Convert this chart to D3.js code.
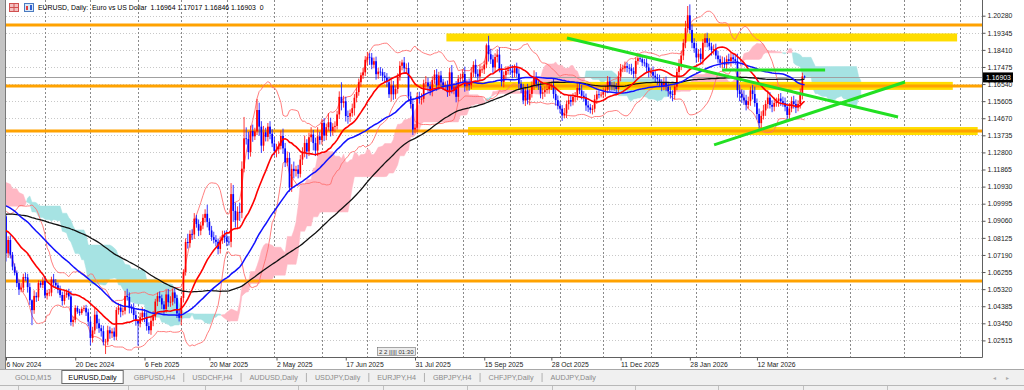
<!DOCTYPE html>
<html><head><meta charset="utf-8">
<script src="https://cdnjs.cloudflare.com/ajax/libs/d3/7.8.5/d3.min.js"></script>
<style>html,body{margin:0;padding:0;background:#fff;overflow:hidden}
text{font-family:"Liberation Sans",Arial,sans-serif}</style>
</head><body><svg id="c" width="1024" height="390"></svg>
<script>
// ---------- DATA (EURUSD daily closes) ----------
// warm-up bars (17 Jun 2024 - 5 Nov 2024), used only for the indicators
const closeWarm = [
1.0733,1.0740,1.0748,1.0703,1.0692, 1.0733,1.0714,1.0683,1.0702,1.0713,
1.0740,1.0745,1.0790,1.0810,1.0840, 1.0826,1.0813,1.0830,1.0870,1.0907,
1.0893,1.0901,1.0938,1.0895,1.0882, 1.0890,1.0850,1.0840,1.0850,1.0856,
1.0819,1.0818,1.0826,1.0790,1.0910, 1.0955,1.0931,1.0922,1.0920,1.0917,
1.0932,1.0995,1.1013,1.0966,1.1027, 1.1076,1.1130,1.1150,1.1113,1.1192,
1.1164,1.1184,1.1122,1.1077,1.1048, 1.1070,1.1045,1.1088,1.1113,1.1085,
1.1040,1.1023,1.1011,1.1074,1.1075, 1.1133,1.1115,1.1117,1.1160,1.1163,
1.1110,1.1180,1.1134,1.1177,1.1163, 1.1135,1.1067,1.1046,1.1031,1.0975,
1.0975,1.0978,1.0941,1.0937,1.0936, 1.0908,1.0891,1.0891,1.0833,1.0867,
1.0818,1.0797,1.0783,1.0826,1.0797, 1.0817,1.0816,1.0856,1.0884,1.0834,
1.0881,1.0930];
// visible: 6 Nov 2024 - 31 Dec 2024
const close2024 = [
1.0728,1.0801,1.0720,
1.0655,1.0622,1.0565,1.0530,1.0540, 1.0598,1.0596,1.0543,1.0471,1.0417,
1.0495,1.0487,1.0565,1.0555,1.0577, 1.0497,1.0511,1.0513,1.0585,1.0567,
1.0553,1.0529,1.0500,1.0467,1.0500, 1.0514,1.0492,1.0352,1.0364,1.0429,
1.0409,1.0402,1.0423,1.0428, 1.0405,1.0354];
const close2025 = [
1.0265,1.0306,
1.0392,1.0345,1.0318,1.0302,1.0244, 1.0245,1.0307,1.0290,1.0300,1.0272,
1.0418,1.0431,1.0408,1.0414,1.0494, 1.0489,1.0429,1.0425,1.0390,1.0362,
1.0343,1.0378,1.0403,1.0381,1.0330, 1.0307,1.0359,1.0382,1.0464,1.0494,
1.0482,1.0448,1.0423,1.0503,1.0460, 1.0463,1.0514,1.0483,1.0399,1.0375,
1.0484,1.0626,1.0790,1.0784,1.0834, 1.0831,1.0918,1.0888,1.0852,1.0880,
1.0922,1.0944,1.0900,1.0853,1.0816, 1.0802,1.0791,1.0752,1.0800,1.0827,
1.0815,1.0792,1.0791,1.1052,1.0960, 1.0909,1.0955,1.0950,1.1191,1.1357,
1.1353,1.1282,1.1397,1.1368,1.1395, 1.1512,1.1421,1.1317,1.1390,1.1365,
1.1421,1.1382,1.1329,1.1288,1.1297, 1.1316,1.1370,1.1302,1.1225,1.1250,
1.1089,1.1190,1.1178,1.1187,1.1163, 1.1241,1.1278,1.1332,1.1285,1.1363,
1.1378,1.1331,1.1290,1.1368,1.1348, 1.1442,1.1372,1.1418,1.1445,1.1397,
1.1420,1.1425,1.1488,1.1584,1.1550, 1.1560,1.1479,1.1477,1.1495,1.1522,
1.1579,1.1610,1.1664,1.1702,1.1718, 1.1787,1.1803,1.1799,1.1760,1.1779,
1.1708,1.1722,1.1719,1.1700,1.1689, 1.1664,1.1598,1.1646,1.1598,1.1627,
1.1693,1.1754,1.1772,1.1740,1.1742, 1.1587,1.1545,1.1405,1.1415,1.1587,
1.1572,1.1573,1.1658,1.1663,1.1642, 1.1617,1.1676,1.1706,1.1647,1.1701,
1.1663,1.1646,1.1648,1.1609,1.1718, 1.1623,1.1640,1.1584,1.1683,1.1686,
1.1709,1.1642,1.1659,1.1647,1.1717, 1.1759,1.1710,1.1695,1.1734,1.1734,
1.1761,1.1866,1.1817,1.1789,1.1745, 1.1802,1.1815,1.1738,1.1666,1.1703,
1.1726,1.1733,1.1728,1.1716,1.1741, 1.1711,1.1656,1.1630,1.1564,1.1620,
1.1568,1.1600,1.1647,1.1689,1.1655, 1.1642,1.1601,1.1609,1.1621,1.1626,
1.1642,1.1646,1.1600,1.1566,1.1535, 1.1519,1.1482,1.1493,1.1544,1.1566,
1.1557,1.1584,1.1590,1.1633,1.1619, 1.1590,1.1582,1.1537,1.1526,1.1513,
1.1519,1.1570,1.1598,1.1596,1.1596, 1.1610,1.1624,1.1668,1.1645,1.1642,
1.1640,1.1627,1.1694,1.1739,1.1740, 1.1752,1.1743,1.1740,1.1725,1.1710,
1.1780,1.1795,1.1790,1.1772, 1.1770,1.1745,1.1720];
const close2026 = [
1.1720,
1.1700,1.1690,1.1680,1.1660,1.1640, 1.1665,1.1640,1.1615,1.1600,1.1595,
1.1640,1.1720,1.1760,1.1810,1.1880, 1.1960,1.2030,1.1950,1.1880,1.1850,
1.1800,1.1820,1.1790,1.1880,1.1905, 1.1880,1.1860,1.1840,1.1845,1.1810,
1.1790,1.1770,1.1775,1.1760,1.1790, 1.1780,1.1800,1.1790,1.1780,1.1620,
1.1600,1.1580,1.1565,1.1540,1.1560, 1.1620,1.1600,1.1550,1.1490,1.1440,
1.1480,1.1510,1.1545,1.1580,1.1540, 1.1530,1.1550,1.1560,1.1575,1.1560,
1.1550,1.1530,1.1485,1.1520,1.1560, 1.1545,1.1525,1.1545,1.1600,1.16964,
1.16903];
// wick lengths beyond the body, in pips (upper / lower)
const hiWickWarm = [18,22,15,20,25,15,20,18,22,12,10,25,15,20,30,20,15,22,25,18,20,25,30,15,20,22,18,15,20,25,20,15,25,18,30,45,25,20,18,15,22,20,25,30,18,25,20,30,22,15,20,25,18,15,22,25,20,18,30,25,15,20,22,28,18,20,25,18,30,22,25,18,20,35,22,15,20,18,22,15,20,15,22,18,20,25,15,20,22,18,20,18,15,25,20,22,20,25,30,35,25,15];
const loWickWarm = [20,15,25,18,20,22,15,20,18,25,15,20,18,15,20,25,18,20,15,22,18,20,22,25,15,20,25,18,15,20,25,20,18,30,15,60,20,25,18,22,15,20,18,25,20,22,25,18,20,15,25,20,22,18,25,20,22,15,25,20,25,18,20,15,22,18,20,25,15,20,22,25,18,20,30,25,20,18,22,25,20,18,25,22,15,25,20,18,30,20,20,25,22,15,25,18,22,20,15,25,20,15];
const hiWick2024 = [7,20,25,15,18,12,20,25,18,25,20,22,5,30,20,15,12,20,25,18,20,15,30,20,15,22,18,25,15,20,30,18,15,12,15,10,15,18,20];
const loWick2024 = [45,25,20,20,15,22,30,15,25,20,30,25,82,20,25,20,15,18,15,22,18,20,25,18,20,15,25,20,15,18,20,25,15,12,15,10,12,20,25];
const hiWick2025 = [25,20, 40,20,25,18,30, 15,25,20,18,22, 15,25,20,18,28, 40,25,20,30,25, 5,25,30,20,25, 20,25,30,15,20, 25,20,18,25,30, 30,20,25,18,20,
10,15,20,45,20, 25,30,20,25,20, 20,25,50,20,25, 30,25,18,20,25, 25,40,30,60,50, 45,30,50,40,117, 60,40,30,35,20, 61,40,30,35,25, 20,30,25,35,30,
25,30,40,30,35, 30,25,40,20,25, 25,30,40,20,25, 40,25,30,50,25, 20,25,20,50,25, 20,25,20,30,80, 30,25,30,20,25, 20,25,20,15,25, 20,27,20,25,20,
25,20,25,20,20, 25,30,40,25,20, 20,25,15,30,25, 30,25,30,20,20, 25,30,20,35,25, 25,20,25,30,20, 25,20,20,25,25, 40,20,30,20,25, 25,40,20,25,30,
20,30,25,25,20, 20,10,52,30,25, 20,30,40,25,20, 25,20,25,30,20, 30,25,20,25,20, 35,25,20,40,30, 25,20,25,20,25, 25,20,40,25,25, 25,20,30,20,25,
25,20,20,25,30, 30,25,20,25,20, 20,25,20,20,15, 25,20,30,25,20, 25,20,30,25,20, 25,20,20,25,20, 20,30,20,15, 20,25,20];
const loWick2025 = [40,25, 20,30,25,30,20, 67,20,30,25,20, 20,25,30,20,20, 20,30,25,25,30, 120,20,25,30,25, 20,25,30,20,25, 20,25,30,20,25, 25,20,30,25,20,
40,25,20,30,25, 30,25,20,30,25, 20,25,30,25,20, 20,25,30,25,20, 30,25,20,30,60, 40,50,45,30,20, 30,40,25,30,20, 20,50,40,30,25, 25,30,20,25,35,
25,20,30,25,20, 24,25,40,30,25, 20,30,25,40,25, 25,40,30,30,25, 25,30,25,20,30, 25,30,20,25,40, 25,30,40,30,20, 40,25,20,25,20, 20,30,40,25,20,
30,25,20,30,25, 25,20,40,30,25, 25,20,25,30,20, 20,25,30,20,23, 25,30,20,25,30, 25,30,20,30,25, 20,25,30,25,20, 20,25,30,25,20, 20,30,25,30,20,
25,20,30,25,20, 25,20,40,25,30, 25,30,20,25,30, 25,20,25,30,25, 20,30,25,20,30, 25,30,20,25,20, 20,25,30,25,20, 25,20,25,30,20, 25,30,14,25,30,
25,20,30,25,20, 20,25,30,25,20, 25,20,25,20,15, 20,25,20,30,25, 25,30,20,25,20, 20,25,30,20,25, 25,20,15,20, 20,25,30];
const hiWick2026 = [20, 30,25,20,25,20, 25,30,20,25,20, 15,20,30,25,20, 40,51,60,30,25, 30,25,30,20,25, 30,25,20,25,30, 25,20,30,25,20, 30,25,20,25,40,
30,25,40,30,25, 20,30,40,25,30, 25,30,20,40,30, 25,30,20,25,30, 25,30,20,30,25, 30,25,20,30,20, 5];
const loWick2026 = [25, 20,25,30,20,25, 20,25,30,25,35, 25,20,25,30,25, 30,25,20,30,25, 30,25,20,30,25, 25,20,30,25,20, 20,25,30,20,25, 20,30,25,20,40,
40,30,25,30,20, 25,30,20,30,30, 25,20,30,25,20, 30,25,20,30,25, 20,25,30,25,20, 25,30,20,25,30, 6];

// axis labels
const priceTicks = [1.20280,1.19345,1.18410,1.17475,1.16540,1.15605,1.14670,1.13735,1.12800,1.11865,
  1.10930,1.09995,1.09060,1.08125,1.07190,1.06255,1.05320,1.04385,1.03450,1.02515];
const dateLabels = ["6 Nov 2024","20 Dec 2024","6 Feb 2025","20 Mar 2025","2 May 2025","17 Jun 2025",
  "31 Jul 2025","15 Sep 2025","28 Oct 2025","11 Dec 2025","28 Jan 2026","12 Mar 2026"];
const dateBarIdx = [0,32,64,94,125,157,189,221,252,284,316,347];
const monthStartIdx = [18,39,61,81,102,124,146,167,190,211,233,256,276,298,319,339,361,390,415,441];
// drawn objects (bar index / price)
const orangeLevels = [1.1977,1.1644,1.1397,1.0577];
const yellowZones = [[1.1909,203.5,439.5],[1.1644,212.5,437.5],[1.1397,213.5,449]];
const trendLines = [[259.2,1.1906,412.2,1.1474],[330.9,1.1731,378.5,1.1731],[327.2,1.1321,415.4,1.1665]];
const lastPrice = 1.16903;
const tabs = ["GOLD,M15","EURUSD,Daily","GBPUSD,H4","USDCHF,H4","AUDUSD,Daily","USDJPY,Daily","EURJPY,H4","GBPJPY,H4","CHFJPY,Daily","AUDJPY,Daily"];
const activeTab = 1;

// ---------- BUILD ----------
const closes = closeWarm.concat(close2024, close2025, close2026);
const hw = hiWickWarm.concat(hiWick2024, hiWick2025, hiWick2026);
const lw = loWickWarm.concat(loWick2024, loWick2025, loWick2026);
const W = closeWarm.length, N = closes.length;
console.log('lengths', N, hw.length, lw.length);
const bars = closes.map((c,k)=>{const o = k ? closes[k-1] : c;
  return {k, i:k-W, o, c, h:Math.max(o,c)+(hw[k]||0)/1e4, l:Math.min(o,c)-(lw[k]||0)/1e4};});

const svg = d3.select('#c');
const X = d3.scaleLinear().domain([0,451]).range([6,982]);
const Y = d3.scaleLinear().domain([1.02515,1.20280]).range([340.4,15.7]);

svg.append('rect').attr('width',1024).attr('height',390).attr('fill','#fff');
svg.append('rect').attr('x',0).attr('y',0).attr('width',5).attr('height',369).attr('fill','#c4c4c4');
svg.append('line').attr('x1',5.5).attr('x2',5.5).attr('y1',0).attr('y2',369).attr('stroke','#7a7a7a');

svg.append('defs').append('clipPath').attr('id','plot').append('rect')
  .attr('x',6).attr('y',0).attr('width',976).attr('height',357);
const g = svg.append('g').attr('clip-path','url(#plot)');

// grid
g.selectAll('.hg').data(priceTicks).enter().append('line')
  .attr('x1',6).attr('x2',982).attr('y1',d=>Math.round(Y(d))+0.5).attr('y2',d=>Math.round(Y(d))+0.5)
  .attr('stroke','#c8c8c8').attr('stroke-dasharray','1,2');
g.selectAll('.vg').data(monthStartIdx).enter().append('line')
  .attr('x1',d=>Math.round(X(d))+0.5).attr('x2',d=>Math.round(X(d))+0.5).attr('y1',0).attr('y2',357)
  .attr('stroke','#8a8a8a').attr('stroke-dasharray','2,2');

// Ichimoku cloud
function hh(k,n){let m=-Infinity;for(let j=k-n+1;j<=k;j++)m=Math.max(m,bars[j].h);return m;}
function ll(k,n){let m=Infinity;for(let j=k-n+1;j<=k;j++)m=Math.min(m,bars[j].l);return m;}
const cloud=[];
for(let k=51;k<N;k++){
  const t=(hh(k,9)+ll(k,9))/2, kj=(hh(k,26)+ll(k,26))/2;
  const i=k-W+26; if(i<-3) continue;
  cloud.push({i, a:(t+kj)/2, b:(hh(k,52)+ll(k,52))/2});
}
const segs=[]; let cur=null;
cloud.forEach((p,j)=>{
  const up=p.a>=p.b;
  if(!cur){cur={up,pts:[p]};return;}
  if(up===cur.up){cur.pts.push(p);return;}
  const q=cloud[j-1], d0=q.a-q.b, d1=p.a-p.b, t=d0/(d0-d1);
  const m={i:q.i+t*(p.i-q.i), a:q.a+t*(p.a-q.a)}; m.b=m.a;
  cur.pts.push(m); segs.push(cur); cur={up,pts:[m,p]};
});
if(cur) segs.push(cur);
const area=d3.area().x(d=>X(d.i)).y0(d=>Y(d.a)).y1(d=>Y(d.b));
g.selectAll('.cl').data(segs).enter().append('path').attr('d',d=>area(d.pts))
  .attr('fill',d=>d.up?'#ffb8c4':'#a6e3e3').attr('stroke',d=>d.up?'#ffb8c4':'#a6e3e3').attr('stroke-width',0.5);

// zones & levels
g.selectAll('.yz').data(yellowZones).enter().append('rect')
  .attr('x',d=>X(d[1])).attr('width',d=>X(d[2])-X(d[1])).attr('y',d=>Y(d[0])-4).attr('height',8).attr('fill','#ffdd00');
g.selectAll('.ol').data(orangeLevels).enter().append('line')
  .attr('x1',6).attr('x2',982).attr('y1',d=>Y(d)).attr('y2',d=>Y(d)).attr('stroke','#ffa200').attr('stroke-width',3);
g.append('line').attr('x1',6).attr('x2',982).attr('y1',Math.round(Y(lastPrice))+0.5).attr('y2',Math.round(Y(lastPrice))+0.5)
  .attr('stroke','#a0a0a0');

// indicators
function sma(n){const out=[];let s=0;for(let k=0;k<N;k++){s+=closes[k];if(k>=n)s-=closes[k-n];if(k>=n-1)out.push({i:k-W,v:s/n,k});}return out.filter(d=>d.i>=-3);}
function boll(n,m){const out=[];for(let k=n-1;k<N;k++){if(k-W<-3)continue;const sl=closes.slice(k-n+1,k+1);const mu=d3.mean(sl);const sd=Math.sqrt(d3.mean(sl,v=>(v-mu)*(v-mu)));out.push({i:k-W,u:mu+m*sd,l:mu-m*sd});}return out;}
const line=d3.line().x(d=>X(d.i)).y(d=>Y(d.v));
const bb=boll(20,2);
g.append('path').attr('d',line(bb.map(d=>({i:d.i,v:d.u})))).attr('fill','none').attr('stroke','#ff7070').attr('stroke-width',0.9);
g.append('path').attr('d',line(bb.map(d=>({i:d.i,v:d.l})))).attr('fill','none').attr('stroke','#ff7070').attr('stroke-width',0.9);

// candles
const vis=bars.filter(b=>b.i>=0);
const cg=g.append('g');
cg.selectAll('.wk').data(vis).enter().append('line')
  .attr('x1',d=>X(d.i)).attr('x2',d=>X(d.i)).attr('y1',d=>Y(d.h)).attr('y2',d=>Y(d.l))
  .attr('stroke',d=>d.c>=d.o?'#ff2020':'#2020ff').attr('stroke-width',0.9);
cg.selectAll('.bd').data(vis).enter().append('rect')
  .attr('x',d=>X(d.i)-0.85).attr('width',1.7)
  .attr('y',d=>Y(Math.max(d.o,d.c))).attr('height',d=>Math.max(0.8,Y(Math.min(d.o,d.c))-Y(Math.max(d.o,d.c))))
  .attr('fill',d=>d.c>=d.o?'#ff0000':'#0000ff');

g.append('path').attr('d',line(sma(100))).attr('fill','none').attr('stroke','#111').attr('stroke-width',1.3);
g.append('path').attr('d',line(sma(50))).attr('fill','none').attr('stroke','#1010ff').attr('stroke-width',1.5);
g.append('path').attr('d',line(sma(20))).attr('fill','none').attr('stroke','#ff0000').attr('stroke-width',1.6);

// trend lines
g.selectAll('.tl').data(trendLines).enter().append('line')
  .attr('x1',d=>X(d[0])).attr('y1',d=>Y(d[1])).attr('x2',d=>X(d[2])).attr('y2',d=>Y(d[3]))
  .attr('stroke','#22e022').attr('stroke-width',3);

// title
const ic=svg.append('g');
ic.append('rect').attr('x',9.5).attr('y',3.5).attr('width',9).attr('height',8).attr('fill','#f4c0c0').attr('stroke','#d05050');
ic.append('line').attr('x1',9.5).attr('x2',18.5).attr('y1',7.5).attr('y2',7.5).attr('stroke','#d05050');
ic.append('line').attr('x1',14).attr('x2',14).attr('y1',3.5).attr('y2',11.5).attr('stroke','#d05050');
ic.append('rect').attr('x',24.5).attr('y',3.5).attr('width',9).attr('height',8).attr('fill','#d8e8f8').attr('stroke','#4a7ac0');
ic.append('rect').attr('x',26).attr('y',6).attr('width',2).attr('height',4).attr('fill','#e04040');
ic.append('rect').attr('x',30).attr('y',5).attr('width',2).attr('height',5).attr('fill','#3060d0');
svg.append('text').attr('x',38).attr('y',10).attr('font-size',6.9).attr('fill','#000')
  .text('EURUSD, Daily:  Euro vs US Dollar  1.16964 1.17017 1.16846 1.16903  0').style('white-space','pre');

// frame
svg.append('line').attr('x1',982.5).attr('x2',982.5).attr('y1',0).attr('y2',357.5).attr('stroke','#606060');
svg.append('line').attr('x1',5.5).attr('x2',982.5).attr('y1',357.5).attr('y2',357.5).attr('stroke','#606060');

// price axis
const ya=svg.append('g').attr('transform','translate(982.5,0)')
  .call(d3.axisRight(Y).tickValues(priceTicks).tickSize(3).tickSizeOuter(0).tickFormat(d3.format('.5f')));
ya.select('.domain').remove();
ya.selectAll('line').attr('stroke','#555');
ya.selectAll('text').attr('x',5).attr('font-size',6.9).attr('fill','#222').attr('font-family','"Liberation Sans",Arial,sans-serif');
// last price box
svg.append('rect').attr('x',983).attr('y',Y(lastPrice)-5).attr('width',30).attr('height',10).attr('fill','#000');
svg.append('text').attr('x',986).attr('y',Y(lastPrice)+2.5).attr('font-size',6.9).attr('fill','#fff').text(d3.format('.5f')(lastPrice));

// date axis
const xa=svg.append('g').attr('transform','translate(0,357.5)')
  .call(d3.axisBottom(X).tickValues(dateBarIdx).tickSize(3).tickSizeOuter(0).tickFormat((d,j)=>dateLabels[j]));
xa.select('.domain').remove();
xa.selectAll('line').attr('stroke','#555');
xa.selectAll('text').attr('text-anchor','start').attr('x',0).attr('y',4.5).attr('dy','0.71em')
  .attr('font-size',6.8).attr('fill','#222').attr('font-family','"Liberation Sans",Arial,sans-serif');

// small timer box
const tb=svg.append('g');
tb.append('rect').attr('x',377.5).attr('y',347.5).attr('width',38).attr('height',8).attr('fill','#ececec').attr('stroke','#707070').attr('stroke-width',0.6);
tb.append('text').attr('x',379).attr('y',354).attr('font-size',6).attr('fill','#333').text('2 2 ||||| 01:30');

// tab bar
svg.append('rect').attr('x',0).attr('y',369).attr('width',1024).attr('height',21).attr('fill','#f0f0f0');
svg.append('line').attr('x1',0).attr('x2',1024).attr('y1',369.5).attr('y2',369.5).attr('stroke','#a8a8a8');
svg.append('line').attr('x1',0).attr('x2',1024).attr('y1',385.5).attr('y2',385.5).attr('stroke','#b8b8b8');
const tg=svg.append('g');
let tx=15;
tabs.forEach((t,j)=>{
  const txt=tg.append('text').attr('x',tx).attr('y',380).attr('font-size',7.2)
    .attr('fill',j===activeTab?'#000':'#8a8a8a').text(t);
  const w=txt.node().getComputedTextLength();
  if(j===activeTab){
    tg.insert('rect','text').attr('x',tx-6.5).attr('y',370.5).attr('width',w+13).attr('height',13).attr('fill','#fff').attr('stroke','#6a6a6a');
  } else if(j+1<tabs.length && j+1!==activeTab){
    tg.append('line').attr('x1',tx+w+8.5).attr('x2',tx+w+8.5).attr('y1',373).attr('y2',382).attr('stroke','#b0b0b0');
  }
  tx+=w+17;
});
tg.append('text').attr('x',993).attr('y',380).attr('font-size',6).attr('fill','#aaa').text('◂');
tg.append('text').attr('x',1006).attr('y',380).attr('font-size',6).attr('fill','#aaa').text('▸');
[18,128,205,298,383,467,552,635,718,803,887].forEach(x=>{
  svg.append('line').attr('x1',x+0.5).attr('x2',x+0.5).attr('y1',386).attr('y2',390).attr('stroke','#c0c0c0');
});
</script></body></html>
